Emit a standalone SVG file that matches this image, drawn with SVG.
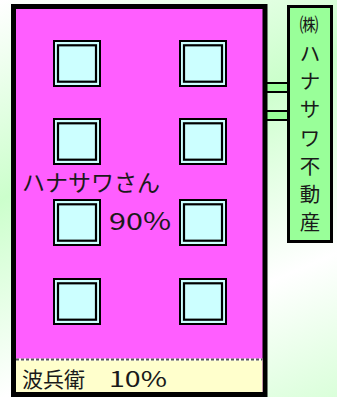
<svg xmlns="http://www.w3.org/2000/svg" width="337" height="397" viewBox="0 0 337 397">
<defs>
<linearGradient id="bg" gradientUnits="userSpaceOnUse" x1="0" y1="0" x2="73" y2="168" spreadMethod="reflect">
<stop offset="0" stop-color="#ffffff"/>
<stop offset="1" stop-color="#ccffcc"/>
</linearGradient>
<g id="win">
<rect x="1" y="1" width="46" height="45" fill="#ccffff" stroke="#000" stroke-width="2"/>
<rect x="5" y="5.3" width="38" height="36.4" fill="#ccffff" stroke="#000" stroke-width="2.2"/>
</g>
</defs>
<style>
.t{font-family:"Noto Sans CJK JP","Noto Sans",sans-serif;fill:#1a1a1a}
.s{font-size:20.5px;text-anchor:middle}
.bar{fill:#99ff99;stroke:#000;stroke-width:2}
</style>
<rect x="0" y="0" width="337" height="397" fill="url(#bg)"/>
<g id="connectors">
<rect class="bar" x="266" y="83" width="22" height="9"/>
<rect class="bar" x="266" y="111" width="22" height="9"/>
</g>
<g id="building">
<rect x="13.5" y="6.5" width="251.5" height="388" fill="#ff5eff" stroke="#000" stroke-width="5"/>
<rect x="16" y="360" width="246.5" height="32" fill="#ffffcc"/>
<line x1="16" y1="359.5" x2="262.5" y2="359.5" stroke="#ffffff" stroke-width="2"/>
<line x1="16" y1="359.5" x2="262.5" y2="359.5" stroke="#555" stroke-width="2" stroke-dasharray="3,2"/>
</g>
<g id="windows">
<use href="#win" x="53" y="40"/>
<use href="#win" x="179" y="40"/>
<use href="#win" x="53" y="118"/>
<use href="#win" x="179" y="118"/>
<use href="#win" x="53" y="199"/>
<use href="#win" x="179" y="199"/>
<use href="#win" x="53" y="278"/>
<use href="#win" x="179" y="278"/>
</g>
<g id="owner-main">
<text class="t" x="22" y="191" font-size="23">ハナサワさん</text>
<text class="t" x="109" y="230" font-size="24" textLength="62" lengthAdjust="spacingAndGlyphs">90%</text>
</g>
<g id="owner-sub">
<text class="t" x="22" y="387" font-size="21">波兵衛　<tspan x="109" textLength="58" lengthAdjust="spacingAndGlyphs">10%</tspan></text>
</g>
<g id="sign">
<rect x="288.5" y="6.5" width="43" height="235" fill="#99ff99" stroke="#000" stroke-width="3"/>
<text class="t s" x="309" y="32" style="font-size:19px">㈱</text>
<text class="t s" x="310" y="61">ハ</text>
<text class="t s" x="310" y="89">ナ</text>
<text class="t s" x="310" y="117">サ</text>
<text class="t s" x="310" y="146">ワ</text>
<text class="t s" x="310" y="174">不</text>
<text class="t s" x="310" y="202">動</text>
<text class="t s" x="310" y="230">産</text>
</g>
</svg>
